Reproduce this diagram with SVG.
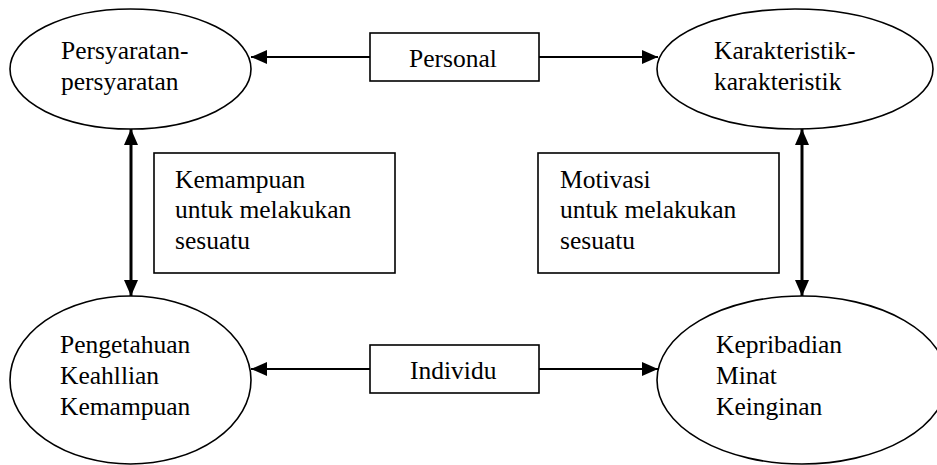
<svg xmlns="http://www.w3.org/2000/svg" width="937" height="465" viewBox="0 0 937 465">
<defs>
<style>
.shape{fill:#fff;stroke:#000;stroke-width:1.6}
text{font-family:'Liberation Serif','Times New Roman','DejaVu Serif',serif;font-size:25.5px;fill:#000}
.h{stroke:#000;stroke-width:2;fill:none}
.v{stroke:#000;stroke-width:3;fill:none}
</style>
<marker id="ah" markerUnits="userSpaceOnUse" markerWidth="16" markerHeight="14" refX="16" refY="7" orient="auto-start-reverse">
<path d="M0,0 L16,7 L0,14 z" fill="#000"/>
</marker>
</defs>
<rect width="937" height="465" fill="#fff"/>
<g id="connectors">
<line class="h" x1="370" y1="57" x2="251" y2="57" marker-end="url(#ah)"/>
<line class="h" x1="539" y1="57" x2="658" y2="57" marker-end="url(#ah)"/>
<line class="h" x1="370" y1="369" x2="251" y2="369" marker-end="url(#ah)"/>
<line class="h" x1="539" y1="369" x2="658" y2="369" marker-end="url(#ah)"/>
<line class="v" x1="131" y1="129" x2="131" y2="296" marker-start="url(#ah)" marker-end="url(#ah)"/>
<line class="v" x1="802" y1="129" x2="802" y2="296" marker-start="url(#ah)" marker-end="url(#ah)"/>
</g>
<g id="persyaratan">
<ellipse class="shape" cx="130.5" cy="69" rx="120.5" ry="60"/>
<text x="61" y="59" font-family="Liberation Serif, serif">Persyaratan-</text>
<text x="61" y="90">persyaratan</text>
</g>
<g id="karakteristik">
<ellipse class="shape" cx="795" cy="69" rx="138" ry="60"/>
<text x="714" y="59">Karakteristik-</text>
<text x="714" y="90">karakteristik</text>
</g>
<g id="pengetahuan">
<ellipse class="shape" cx="130.5" cy="380" rx="120.5" ry="84"/>
<text x="60" y="353">Pengetahuan</text>
<text x="60" y="384">Keahllian</text>
<text x="60" y="415">Kemampuan</text>
</g>
<g id="kepribadian">
<ellipse class="shape" cx="802" cy="380" rx="145" ry="84"/>
<text x="716" y="353">Kepribadian</text>
<text x="716" y="384">Minat</text>
<text x="716" y="415">Keinginan</text>
</g>
<g id="personal">
<rect class="shape" x="370" y="33" width="169" height="48"/>
<text x="409" y="67">Personal</text>
</g>
<g id="individu">
<rect class="shape" x="370" y="345" width="169" height="48"/>
<text x="410" y="379">Individu</text>
</g>
<g id="kemampuan">
<rect class="shape" x="154" y="153" width="241" height="120"/>
<text x="175" y="188">Kemampuan</text>
<text x="175" y="218">untuk melakukan</text>
<text x="175" y="249">sesuatu</text>
</g>
<g id="motivasi">
<rect class="shape" x="538" y="153" width="241" height="120"/>
<text x="560" y="188">Motivasi</text>
<text x="560" y="218">untuk melakukan</text>
<text x="560" y="249">sesuatu</text>
</g>
</svg>
